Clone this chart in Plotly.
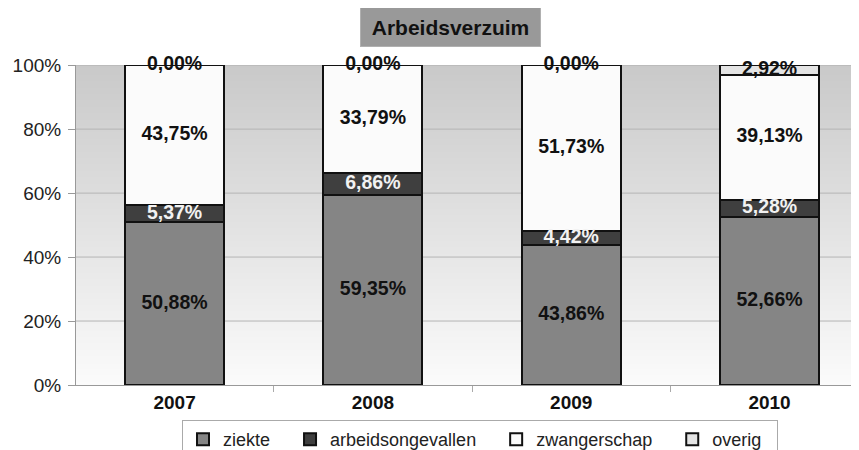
import plotly.graph_objects as go

# ---- data ----
years = ["2007", "2008", "2009", "2010"]
ziekte = [50.88, 59.35, 43.86, 52.66]
arbeidsongevallen = [5.37, 6.86, 4.42, 5.28]
zwangerschap = [43.75, 33.79, 51.73, 39.13]
overig = [0.00, 0.00, 0.00, 2.92]
series_names = ["ziekte", "arbeidsongevallen", "zwangerschap", "overig"]
y_ticks = [0, 20, 40, 60, 80, 100]
y_tick_labels = ["0%", "20%", "40%", "60%", "80%", "100%"]
title_text = "Arbeidsverzuim"

series = [ziekte, arbeidsongevallen, zwangerschap, overig]
fills = ["#858585", "#3f3f3f", "#fbfbfb", "#e4e4e4"]
label_colors = ["#111111", "#f2f2f2", "#111111", "#111111"]
FONT = "Liberation Sans, Arial, Helvetica, sans-serif"
NBSP = "\u00a0"

# The page body has an 8px margin, so the figure is drawn 8px smaller and
# laid out in figure coordinates (window coordinate - 8).
W, H = 851, 442
XR = [-0.497, 3.451]
YR = [0, 100.05]

fig = go.Figure()

# background gradient (main axes, drawn under the bars on overlay axes)
grad_y = list(range(0, 101))
fig.add_trace(go.Heatmap(
    x=[XR[0] - 1, XR[1] + 1], y=grad_y,
    z=[[v, v] for v in grad_y],
    colorscale=[[0, "#fbfbfb"], [1, "#c9c9c9"]],
    showscale=False, hoverinfo="skip", zsmooth="best",
    xaxis="x", yaxis="y",
))
# gridlines over the gradient
gx, gy = [], []
for t in y_ticks[1:]:
    gx += [XR[0] - 1, XR[1] + 1, None]
    gy += [t, t, None]
fig.add_trace(go.Scatter(x=gx, y=gy, mode="lines",
                         line=dict(color="#b4b4b4", width=1),
                         hoverinfo="skip", showlegend=False,
                         xaxis="x", yaxis="y"))

# stacked bars
for i, (name, vals, col) in enumerate(zip(series_names, series, fills)):
    legend_name = name + (NBSP * 3 if i < len(series_names) - 1 else NBSP * 2)
    fig.add_trace(go.Bar(
        x=years, y=vals, name=legend_name, width=0.5,
        marker=dict(color=col, line=dict(color="#111111", width=2)),
        xaxis="x2", yaxis="y2",
    ))

# value labels centred in each segment
base = [0.0] * len(years)
for vals, tc in zip(series, label_colors):
    centers = [b + v / 2 for b, v in zip(base, vals)]
    texts = [f"{v:.2f}".replace(".", ",") + "%" for v in vals]
    fig.add_trace(go.Scatter(
        x=years, y=centers, text=texts, mode="text", cliponaxis=False,
        textfont=dict(family=FONT, size=19.5, color=tc, weight="bold"),
        showlegend=False, hoverinfo="skip",
        xaxis="x2", yaxis="y2",
    ))
    base = [b + v for b, v in zip(base, vals)]

fig.update_layout(
    width=W, height=H,
    margin=dict(l=68, r=0, t=57, b=65, autoexpand=False),
    paper_bgcolor="white", plot_bgcolor="rgba(0,0,0,0)",
    barmode="stack",
    font=dict(family=FONT, size=18, color="#222222"),
    xaxis=dict(range=XR, showgrid=False, zeroline=False,
               showticklabels=False, showline=False, ticks=""),
    yaxis=dict(range=YR, tickvals=y_ticks, ticktext=y_tick_labels,
               showgrid=False, zeroline=False, showline=True,
               linecolor="#999999", linewidth=1, ticks="outside",
               ticklen=7, tickcolor="#999999", automargin=False,
               ticklabelstandoff=3,
               tickfont=dict(size=19, color="#222222")),
    xaxis2=dict(type="category", overlaying="x", anchor="y2", range=XR,
                showgrid=False, zeroline=False, showline=True,
                linecolor="#999999", linewidth=1, ticks="outside",
                tickson="boundaries", ticklen=6, tickcolor="#aaaaaa",
                automargin=False,
                tickfont=dict(size=19, color="#111111", weight="bold")),
    yaxis2=dict(overlaying="y", anchor="x2", range=YR, visible=False),
    showlegend=True,
    legend=dict(orientation="h", traceorder="normal",
                xref="container", yref="container",
                x=174 / W, xanchor="left",
                y=(H - 412) / H, yanchor="top",
                bgcolor="white", bordercolor="#aaaaaa", borderwidth=1,
                font=dict(size=18, color="#222222")),
    annotations=[dict(
        text="<b>" + title_text + "</b>", xref="paper", yref="paper",
        x=(450.5 - 76) / 783, y=(385 - 27) / 320,
        xanchor="center", yanchor="middle", showarrow=False,
        width=179, height=38, borderpad=0,
        bgcolor="#999999", bordercolor="#b0b0b0", borderwidth=1,
        font=dict(size=21, color="#111111", family=FONT),
    )],
)

fig.write_html("out.html")
